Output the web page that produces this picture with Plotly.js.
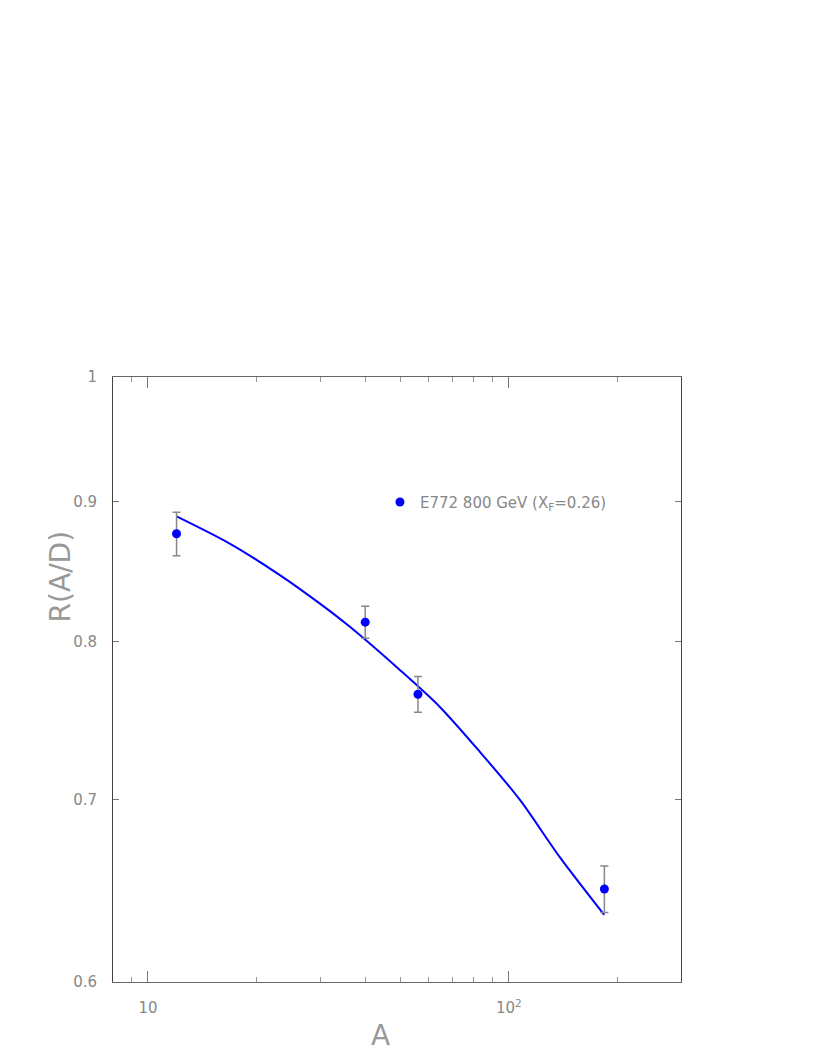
<!DOCTYPE html>
<html>
<head>
<meta charset="utf-8">
<script src="https://cdn.plot.ly/plotly-3.0.1.min.js"></script>
<style>html,body{margin:0;padding:0;background:#fff;}#chart{width:817px;height:1058px;}</style>
</head>
<body>
<div id="chart"></div>
<script>
// Data points (E772, 800 GeV, xF = 0.26)
const dataA = [12, 40, 56, 184];
const dataR = [0.876, 0.813, 0.765, 0.649];
const dataErr = [0.016, 0.011, 0.0115, 0.0128];

// Model curve
const curveA = [12.0, 16.8, 23.2, 29.9, 36.2, 49.8, 64.3, 82.9, 107.1, 138.1, 183.8];
const curveR = [0.889, 0.869, 0.846, 0.826, 0.810, 0.781, 0.757, 0.729, 0.700, 0.667, 0.635];

const xMajorTicks = [10, 100];
const xMajorText = ['10', '10<sup>2</sup>'];
const xMinorTicks = [9, 20, 30, 40, 50, 60, 70, 80, 90, 200];
const yTicks = [0.6, 0.7, 0.8, 0.9, 1];
const yTickText = ['0.6', '0.7', '0.8', '0.9', '1'];
const legendLabel = 'E772 800 GeV (X<sub>F</sub>=0.26)';

const font = 'DejaVu Sans, Liberation Sans, sans-serif';
const traces = [
  {
    x: curveA, y: curveR, mode: 'lines', type: 'scatter',
    line: {color: '#0000ff', width: 2, shape: 'spline', smoothing: 0.8}, showlegend: false, hoverinfo: 'skip'
  },
  {
    x: dataA, y: dataR, mode: 'markers', type: 'scatter', name: legendLabel,
    marker: {color: '#0000ff', size: 9},
    error_y: {type: 'data', array: dataErr, visible: true, color: '#888888', thickness: 1.5, width: 4}
  }
];

const layout = {
  width: 817, height: 1058,
  margin: {l: 113, r: 136, t: 377, b: 76},
  paper_bgcolor: '#ffffff', plot_bgcolor: '#ffffff',
  font: {family: font, color: '#888888', size: 14},
  showlegend: true,
  legend: {
    x: 0.47, y: 0.793, xanchor: 'left', yanchor: 'middle',
    bgcolor: 'rgba(0,0,0,0)', borderwidth: 0,
    font: {family: font, size: 15, color: '#888888'}
  },
  xaxis: {
    type: 'log', range: [Math.log10(8), Math.log10(300)],
    tickmode: 'array', tickvals: xMajorTicks, ticktext: xMajorText,
    ticks: 'inside', ticklen: 11, tickwidth: 1, tickcolor: '#777777',
    minor: {tickvals: xMinorTicks, ticks: 'inside', ticklen: 5, tickwidth: 1, tickcolor: '#999999', showgrid: false},
    showline: true, linecolor: '#666666', linewidth: 1, mirror: 'ticks',
    showgrid: false, zeroline: false,
    tickfont: {family: font, size: 15, color: '#888888'},
    ticklabelstandoff: 12
  },
  yaxis: {
    type: 'log', range: [Math.log10(0.6), 0],
    tickmode: 'array', tickvals: yTicks, ticktext: yTickText,
    ticks: 'inside', ticklen: 6, tickwidth: 1, tickcolor: '#777777',
    showline: true, linecolor: '#444444', linewidth: 1, mirror: 'ticks',
    showgrid: false, zeroline: false,
    tickfont: {family: font, size: 15, color: '#888888'},
    ticklabelstandoff: 12
  },
  annotations: [
    {text: 'R(A/D)', xref: 'paper', yref: 'paper', x: -0.092, y: 0.67, xanchor: 'center', yanchor: 'middle',
     textangle: -90, showarrow: false, font: {family: font, size: 28, color: '#999999'}},
    {text: 'A', xref: 'paper', yref: 'paper', x: 0.471, y: -0.088, xanchor: 'center', yanchor: 'middle',
     showarrow: false, font: {family: font, size: 28, color: '#999999'}}
  ]
};

Plotly.newPlot('chart', traces, layout, {displayModeBar: false, staticPlot: true});
</script>
</body>
</html>
